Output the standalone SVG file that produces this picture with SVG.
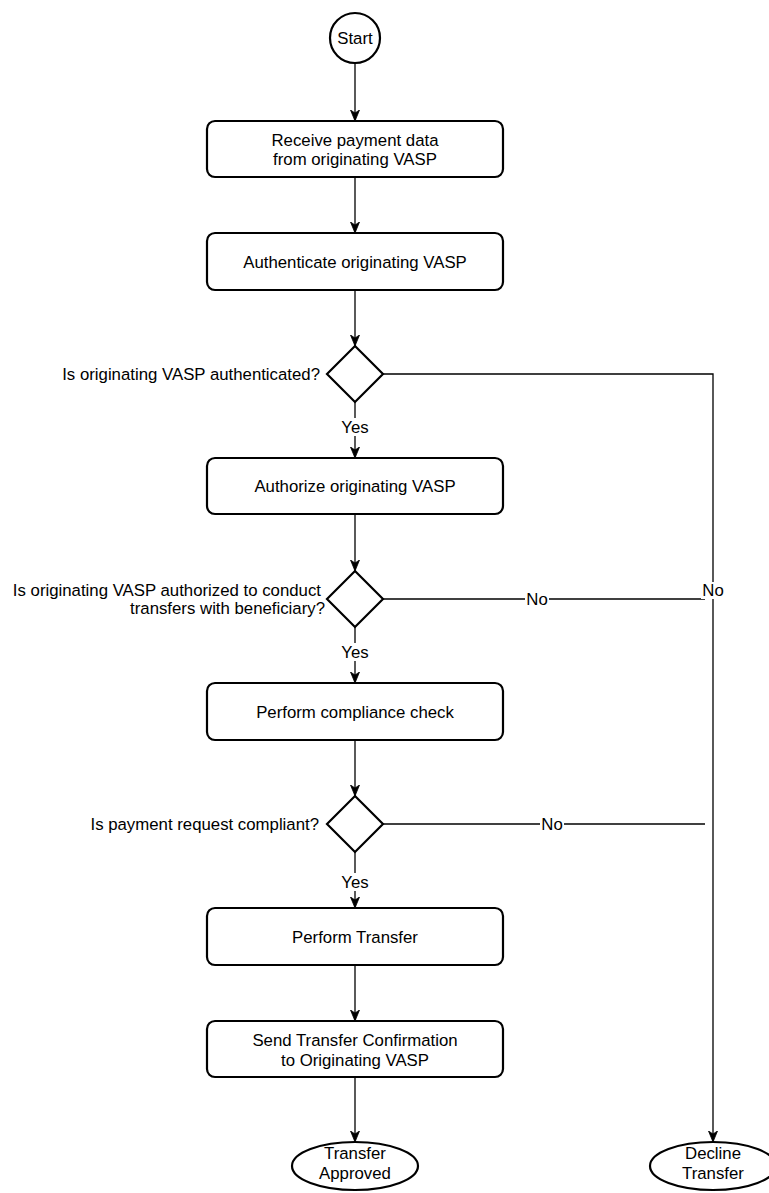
<svg xmlns="http://www.w3.org/2000/svg" width="769" height="1193" viewBox="0 0 769 1193">
  <style>
    .shape { fill: #ffffff; stroke: #000000; stroke-width: 2.2; }
    .t { font-family: "Liberation Sans", Arial, Helvetica, sans-serif; font-size: 16.8px; fill: #000000; }
    .c { text-anchor: middle; }
    .r { text-anchor: end; }
    .edge { fill: none; stroke: #000000; stroke-width: 1.3; }
    .lbl-bg { fill: #ffffff; }
  </style>
  <defs>
    <marker id="arrow" viewBox="0 0 11 10" refX="11" refY="5" markerWidth="11" markerHeight="10" markerUnits="userSpaceOnUse" orient="auto">
      <path d="M0,0.5 L11,5 L0,9.5 L3,5 Z" fill="#000000" stroke="#000000" stroke-width="0.8"/>
    </marker>
  </defs>
  <rect width="769" height="1193" fill="#ffffff"/>

  <g id="connectors">
    <line class="edge" x1="355" y1="63" x2="355" y2="121" marker-end="url(#arrow)"/>
    <line class="edge" x1="355" y1="177" x2="355" y2="233" marker-end="url(#arrow)"/>
    <line class="edge" x1="355" y1="290" x2="355" y2="346" marker-end="url(#arrow)"/>
    <line class="edge" x1="355" y1="402" x2="355" y2="458" marker-end="url(#arrow)"/>
    <line class="edge" x1="355" y1="514" x2="355" y2="571" marker-end="url(#arrow)"/>
    <line class="edge" x1="355" y1="627" x2="355" y2="683" marker-end="url(#arrow)"/>
    <line class="edge" x1="355" y1="740" x2="355" y2="796" marker-end="url(#arrow)"/>
    <line class="edge" x1="355" y1="852" x2="355" y2="908" marker-end="url(#arrow)"/>
    <line class="edge" x1="355" y1="965" x2="355" y2="1021" marker-end="url(#arrow)"/>
    <line class="edge" x1="355" y1="1077" x2="355" y2="1142" marker-end="url(#arrow)"/>
    <polyline class="edge" points="383,374 713,374 713,1142" marker-end="url(#arrow)"/>
    <line class="edge" x1="383" y1="599" x2="705" y2="599"/>
    <line class="edge" x1="383" y1="824" x2="705" y2="824"/>

    <rect class="lbl-bg" x="340" y="418" width="30" height="18"/>
    <text class="t c" x="355" y="433">Yes</text>
    <rect class="lbl-bg" x="340" y="643" width="30" height="18"/>
    <text class="t c" x="355" y="658">Yes</text>
    <rect class="lbl-bg" x="340" y="873" width="30" height="18"/>
    <text class="t c" x="355" y="888">Yes</text>

    <rect class="lbl-bg" x="701" y="582" width="24" height="17"/>
    <text class="t c" x="713" y="596">No</text>
    <rect class="lbl-bg" x="525" y="591" width="24" height="17"/>
    <text class="t c" x="537" y="605">No</text>
    <rect class="lbl-bg" x="540" y="816" width="24" height="17"/>
    <text class="t c" x="552" y="830">No</text>
  </g>

  <g id="start">
    <circle class="shape" cx="355" cy="38" r="25"/>
    <text class="t c" x="355" y="44">Start</text>
  </g>

  <g id="receive">
    <rect class="shape" x="207" y="121" width="296" height="56" rx="8"/>
    <text class="t c" x="355" y="146">Receive payment data</text>
    <text class="t c" x="355" y="165">from originating VASP</text>
  </g>

  <g id="authenticate">
    <rect class="shape" x="207" y="233" width="296" height="57" rx="8"/>
    <text class="t c" x="355" y="268">Authenticate originating VASP</text>
  </g>

  <g id="decision-authenticated">
    <polygon class="shape" points="355,346 383,374 355,402 327,374"/>
    <text class="t r" x="320" y="380">Is originating VASP authenticated?</text>
  </g>

  <g id="authorize">
    <rect class="shape" x="207" y="458" width="296" height="56" rx="8"/>
    <text class="t c" x="355" y="492">Authorize originating VASP</text>
  </g>

  <g id="decision-authorized">
    <polygon class="shape" points="355,571 383,599 355,627 327,599"/>
    <text class="t r" x="321" y="596">Is originating VASP authorized to conduct</text>
    <text class="t r" x="325" y="614">transfers with beneficiary?</text>
  </g>

  <g id="compliance">
    <rect class="shape" x="207" y="683" width="296" height="57" rx="8"/>
    <text class="t c" x="355" y="718">Perform compliance check</text>
  </g>

  <g id="decision-compliant">
    <polygon class="shape" points="355,796 383,824 355,852 327,824"/>
    <text class="t r" x="319" y="830">Is payment request compliant?</text>
  </g>

  <g id="perform-transfer">
    <rect class="shape" x="207" y="908" width="296" height="57" rx="8"/>
    <text class="t c" x="355" y="943">Perform Transfer</text>
  </g>

  <g id="send-confirmation">
    <rect class="shape" x="207" y="1021" width="296" height="56" rx="8"/>
    <text class="t c" x="355" y="1046">Send Transfer Confirmation</text>
    <text class="t c" x="355" y="1066">to Originating VASP</text>
  </g>

  <g id="transfer-approved">
    <ellipse class="shape" cx="355" cy="1166" rx="63" ry="24"/>
    <text class="t c" x="355" y="1159">Transfer</text>
    <text class="t c" x="355" y="1179">Approved</text>
  </g>

  <g id="decline-transfer">
    <ellipse class="shape" cx="713" cy="1166" rx="63" ry="24"/>
    <text class="t c" x="713" y="1159">Decline</text>
    <text class="t c" x="713" y="1179">Transfer</text>
  </g>
</svg>
